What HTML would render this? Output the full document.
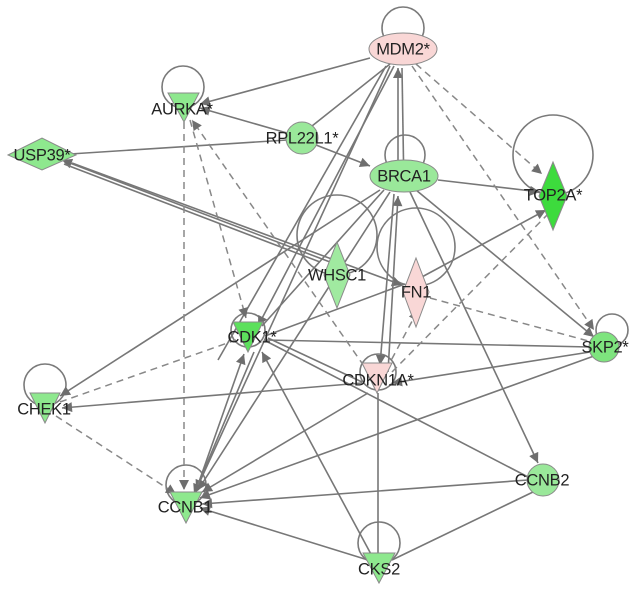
<!DOCTYPE html>
<html><head><meta charset="utf-8"><style>
html,body{margin:0;padding:0;background:#fff;}
svg text{font-family:"Liberation Sans",sans-serif;font-size:16.5px;fill:#222;text-anchor:middle;dominant-baseline:middle;letter-spacing:-0.3px;}
</style></head><body>
<svg width="640" height="602" viewBox="0 0 640 602" xmlns="http://www.w3.org/2000/svg">
<defs>
<marker id="a" viewBox="0 0 10 10" refX="10" refY="5" markerWidth="11" markerHeight="10" orient="auto-start-reverse" markerUnits="userSpaceOnUse"><path d="M0,0L10,5L0,10z" fill="#6e6e6e"/></marker>
</defs>
<g fill="none" stroke="#7a7a7a" stroke-width="1.6">
<circle cx="403" cy="28" r="21"/>
<circle cx="183" cy="87" r="21"/>
<circle cx="405" cy="155" r="20"/>
<circle cx="553" cy="155" r="40"/>
<circle cx="337" cy="235" r="40"/>
<circle cx="416" cy="247" r="39"/>
<circle cx="248" cy="330" r="17"/>
<circle cx="378" cy="372" r="18"/>
<circle cx="612" cy="330" r="16"/>
<circle cx="45" cy="385" r="21"/>
<circle cx="186" cy="485" r="20"/>
<circle cx="379" cy="543" r="21"/>
</g>
<g fill="none" stroke="#777" stroke-width="1.6">
<line x1="370" y1="58" x2="200" y2="104" marker-end="url(#a)"/>
<line x1="287" y1="133" x2="200" y2="108" marker-end="url(#a)"/>
<line x1="312" y1="126" x2="390" y2="64"/>
<line x1="316" y1="145" x2="370" y2="166" marker-end="url(#a)"/>
<line x1="287" y1="140" x2="70" y2="154"/>
<line x1="330" y1="262" x2="62" y2="160" marker-end="url(#a)"/>
<line x1="320" y1="262" x2="64" y2="164"/>
<line x1="72" y1="163" x2="402" y2="285" marker-end="url(#a)"/>
<line x1="438" y1="180" x2="540" y2="192" marker-end="url(#a)"/>
<line x1="398" y1="192" x2="398" y2="68" marker-end="url(#a)"/>
<line x1="404" y1="192" x2="402" y2="68"/>
<line x1="386" y1="66" x2="218" y2="360"/>
<line x1="390" y1="66" x2="196" y2="490" marker-end="url(#a)"/>
<line x1="394" y1="66" x2="258" y2="326" marker-end="url(#a)"/>
<line x1="380" y1="190" x2="60" y2="396" marker-end="url(#a)"/>
<line x1="384" y1="190" x2="262" y2="326"/>
<line x1="390" y1="192" x2="198" y2="490" marker-end="url(#a)"/>
<line x1="410" y1="192" x2="538" y2="463" marker-end="url(#a)"/>
<line x1="416" y1="190" x2="594" y2="337" marker-end="url(#a)"/>
<line x1="394" y1="194" x2="380" y2="365" marker-end="url(#a)"/>
<line x1="388" y1="372" x2="398" y2="196" marker-end="url(#a)"/>
<line x1="266" y1="340" x2="590" y2="347"/>
<line x1="264" y1="340" x2="530" y2="478"/>
<line x1="268" y1="338" x2="362" y2="382"/>
<line x1="265" y1="336" x2="405" y2="284"/>
<line x1="362" y1="383" x2="62" y2="408" marker-end="url(#a)"/>
<line x1="590" y1="352" x2="392" y2="383" marker-end="url(#a)"/>
<line x1="594" y1="356" x2="200" y2="498" marker-end="url(#a)"/>
<line x1="368" y1="393" x2="202" y2="492" marker-end="url(#a)"/>
<line x1="528" y1="480" x2="202" y2="504" marker-end="url(#a)"/>
<line x1="368" y1="560" x2="200" y2="508" marker-end="url(#a)"/>
<line x1="372" y1="556" x2="262" y2="352" marker-end="url(#a)"/>
<line x1="378" y1="556" x2="378" y2="393"/>
<line x1="392" y1="560" x2="533" y2="492"/>
<line x1="194" y1="496" x2="244" y2="354" marker-end="url(#a)"/>
<line x1="254" y1="352" x2="194" y2="494" marker-end="url(#a)"/>
<line x1="420" y1="278" x2="546" y2="210" marker-end="url(#a)"/>
</g>
<g fill="none" stroke="#888" stroke-width="1.5" stroke-dasharray="7,5">
<line x1="416" y1="64" x2="542" y2="174" marker-end="url(#a)"/>
<line x1="412" y1="66" x2="594" y2="330" marker-end="url(#a)"/>
<line x1="184" y1="122" x2="184" y2="490" marker-end="url(#a)"/>
<line x1="190" y1="120" x2="246" y2="318" marker-end="url(#a)"/>
<line x1="364" y1="366" x2="192" y2="120" marker-end="url(#a)"/>
<line x1="60" y1="402" x2="236" y2="340"/>
<line x1="56" y1="416" x2="176" y2="494" marker-end="url(#a)"/>
<line x1="430" y1="298" x2="592" y2="342"/>
<line x1="386" y1="370" x2="418" y2="310" marker-end="url(#a)"/>
<line x1="392" y1="372" x2="550" y2="212"/>
</g>
<g stroke="#8a8a8a" stroke-width="1">
<ellipse cx="403" cy="49" rx="34" ry="16" fill="#f9d7d6"/>
<polygon points="168,93 199,93 184,122" fill="#8ee88e"/>
<circle cx="302" cy="138" r="16" fill="#9ae89a"/>
<polygon points="8,155 42,138 76,155 42,170" fill="#8ee88e"/>
<ellipse cx="404" cy="176" rx="34" ry="16" fill="#9ae89a"/>
<polygon points="553,162 567,196 553,230 539,196" fill="#3ddb3d"/>
<polygon points="337,242 350,275 337,308 324,275" fill="#a0eaa0"/>
<polygon points="416,258 429,292 416,327 403,292" fill="#f9d7d6"/>
<polygon points="233,322 263,322 248,352" fill="#5ce05c"/>
<polygon points="362,363 392,363 377,393" fill="#f9d7d6"/>
<circle cx="604" cy="347" r="15" fill="#7ee47e"/>
<polygon points="30,393 60,393 45,423" fill="#8ee88e"/>
<polygon points="170,492 202,492 186,523" fill="#8ee88e"/>
<circle cx="543" cy="480" r="16" fill="#9ae89a"/>
<polygon points="363,553 395,553 379,583" fill="#8ee88e"/>
</g>
<text x="403" y="50">MDM2*</text>
<text x="182" y="110">AURKA*</text>
<text x="302" y="139">RPL22L1*</text>
<text x="42" y="156">USP39*</text>
<text x="404" y="177">BRCA1</text>
<text x="553" y="196">TOP2A*</text>
<text x="337" y="276">WHSC1</text>
<text x="416" y="293">FN1</text>
<text x="252" y="338">CDK1*</text>
<text x="378" y="381">CDKN1A*</text>
<text x="605" y="348">SKP2*</text>
<text x="44" y="410">CHEK1</text>
<text x="185" y="508">CCNB1</text>
<text x="542" y="481">CCNB2</text>
<text x="379" y="570">CKS2</text>
</svg>
</body></html>
